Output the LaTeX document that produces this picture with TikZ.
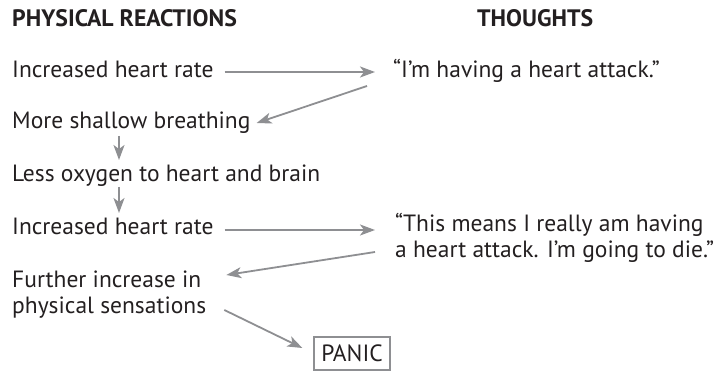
\documentclass[tikz,border=0pt]{standalone}
\usepackage{fontspec}
\setmainfont{PT Sans}
\usetikzlibrary{arrows.meta,positioning}
\definecolor{ink}{HTML}{231F20}
\definecolor{linegray}{HTML}{8E8F92}

\begin{document}
\begin{tikzpicture}[x=1pt,y=-1pt,
    txt/.style={anchor=base west, inner sep=0pt, text=ink, font=\fontsize{23.5}{25.5}\selectfont},
    head/.style={txt, font=\fontsize{23.8}{26}\selectfont\bfseries},
    arr/.style={draw=linegray, line width=1.8pt, -{Stealth[length=15pt,width=11pt,inset=4pt]}},
    panicbox/.style={draw=linegray, line width=1.8pt, text=ink, inner xsep=7pt, inner ysep=8pt, font=\fontsize{23.5}{25.5}\selectfont}]
  \useasboundingbox (0,0) rectangle (714,371);

  % column headings
  \node[head] (phys) at (12,27) {PHYSICAL REACTIONS};
  \node[head] (thou) at (477,27) {THOUGHTS};

  % physical reactions
  \node[txt] (p1) at (12,78) {Increased heart rate};
  \node[txt] (p2) at (12,129) {More shallow breathing};
  \node[txt] (p3) at (12,182) {Less oxygen to heart and brain};
  \node[txt] (p4) at (12,234) {Increased heart rate};
  \node[txt, align=left] (p5) at (12,313) {Further increase in\\physical sensations};
  \node[panicbox] (panic) at (352,353.5) {PANIC};

  % thoughts
  \node[txt] (t1) at (393,78) {“I’m having a heart attack.”};
  \node[txt, align=left] (t2) at (395,257) {“This means I really am having\\a heart attack. I’m going to die.”};

  % the cycle
  \draw[arr] ([xshift=11pt,yshift=6pt]p1.base east) -- ([xshift=-18pt,yshift=6pt]t1.base west);
  \draw[arr] ([xshift=-26pt,yshift=-8pt]t1.base west) -- ([xshift=6pt,yshift=6pt]p2.base east);
  \draw[arr] ([xshift=107pt,yshift=-7pt]p2.base west) -- ([xshift=107pt,yshift=22pt]p3.base west);
  \draw[arr] ([xshift=107pt,yshift=-5pt]p3.base west) -- ([xshift=107pt,yshift=21pt]p4.base west);
  \draw[arr] ([xshift=11pt,yshift=4pt]p4.base east) -- ([xshift=-20pt,yshift=27pt]t2.base west);
  \draw[arr] ([xshift=-20pt,yshift=5pt]t2.base west) -- ([xshift=20pt,yshift=38pt]p5.base east);
  \draw[arr] ([xshift=18pt,yshift=3pt]p5.base east) -- ([xshift=-11pt,yshift=5.5pt]panic.west);
\end{tikzpicture}
\end{document}
